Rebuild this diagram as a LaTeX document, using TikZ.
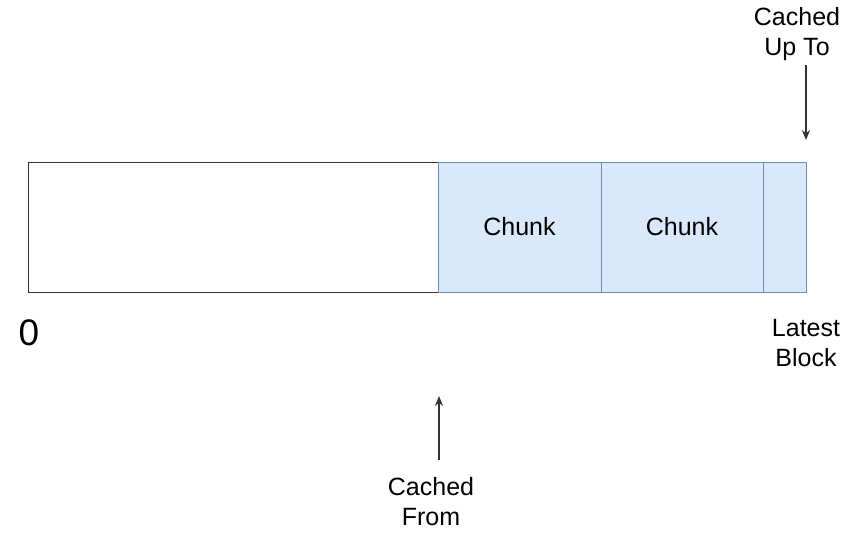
\documentclass[tikz,border=0pt]{standalone}
\usepackage{fontspec}
\setmainfont{Liberation Sans}
\usetikzlibrary{arrows.meta}
\definecolor{chunkfill}{HTML}{DAE8FC}
\definecolor{chunkline}{HTML}{6C8EBF}
\begin{document}
\begin{tikzpicture}[x=1pt,y=-1pt,
  plainbox/.style={draw=black!80,line width=1pt,fill=white,minimum height=130pt,inner sep=0pt,outer sep=0pt},
  chunkbox/.style={draw=chunkline,line width=1pt,fill=chunkfill,minimum height=130pt,inner sep=0pt,outer sep=0pt,font=\fontsize{25}{30}\selectfont},
  lbl/.style={align=center,inner sep=0pt,font=\fontsize{25}{30}\selectfont,anchor=north},
  ptr/.style={draw=black!80,line width=1.2pt,-{Stealth[length=10pt,width=8pt]}}]
\useasboundingbox (0,0) rectangle (851,535);
\node[plainbox,minimum width=410pt] (empty) at (233,227) {};
\node[chunkbox,minimum width=163pt] (c1) at (519.5,227) {Chunk};
\node[chunkbox,minimum width=162pt] (c2) at (682,227) {Chunk};
\node[chunkbox,minimum width=43pt] (c3) at (784.5,227) {};
\node[inner sep=0pt,anchor=base,font=\fontsize{37}{40}\selectfont] (zero) at (29,345) {0};
\node[lbl] (upto) at (797,7) {Cached\\Up To};
\node[lbl] (latest) at (806,319) {Latest\\Block};
\node[lbl] (from) at (431,477) {Cached\\From};
\coordinate (upstart) at (806,65);
\coordinate (upend) at (806,140);
\coordinate (fromstart) at (439,460);
\coordinate (fromend) at (439,396);
\draw[ptr] (upstart) -- (upend);
\draw[ptr] (fromstart) -- (fromend);
\end{tikzpicture}
\end{document}
